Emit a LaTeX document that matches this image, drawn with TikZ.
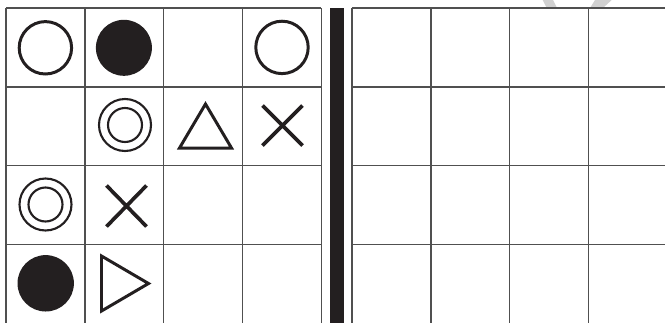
\documentclass[tikz,border=0pt]{standalone}
\usepackage{tikz}
\definecolor{ink}{HTML}{231F20}
\definecolor{rule}{HTML}{505050}

\begin{document}
\begin{tikzpicture}[x=0.02cm, y=-0.02cm,
  gridline/.style={rule, line width=0.75pt},
  symbol/.style={ink, line width=1.7pt},
  thinsymbol/.style={ink, line width=1.2pt},
  cross/.style={ink, line width=2.1pt}]
  \useasboundingbox (0,0) rectangle (665,322);
  \clip (0,0) rectangle (665,322);
  % watermark fragment
  \begin{scope}
    \clip (0,0) rectangle (665,8);
    \fill[black!18] (542.7,0) -- (553,0) -- (557,8) -- (546.7,8) -- cycle;
    \fill[black!18] (595,0) -- (611.7,0) -- (603,8) -- (590,8) -- cycle;
  \end{scope}
  % left grid
  \foreach \i in {0,...,4}
    \draw[gridline] ({6+78.85*\i},8) -- ({6+78.85*\i},330);
  \foreach \j in {0,...,3}
    \draw[gridline] (6,{8+78.85*\j}) -- (321.4,{8+78.85*\j});
  % right grid
  \foreach \i in {0,...,4}
    \draw[gridline] ({352+78.85*\i},8) -- ({352+78.85*\i},330);
  \foreach \j in {0,...,3}
    \draw[gridline] (352,{8+78.85*\j}) -- (670,{8+78.85*\j});
  % divider
  \fill[ink] (330,8) rectangle (343.5,330);
  % row 1
  \draw[symbol] (45.4,47.8) circle (26.2);
  \fill[ink] (123.9,47.8) circle (28);
  \draw[symbol] (282.0,47.4) circle (26.2);
  % row 2
  \draw[thinsymbol] (125,125) circle (26) (125,125) circle (17);
  \draw[symbol, line join=miter] (205.5,104) -- (231.5,148) -- (179.5,148) -- cycle;
  \draw[cross] (262.5,105.5) -- (302.5,145.5) (302.5,105.5) -- (262.5,145.5);
  % row 3
  \draw[thinsymbol] (45.5,204.5) circle (26) (45.5,204.5) circle (17);
  \draw[cross] (106.5,185.5) -- (146.5,226.5) (146.5,185.5) -- (106.5,226.5);
  % row 4
  \fill[ink] (45.7,283.3) circle (28.2);
  \draw[symbol, line join=miter] (101.5,256) -- (148.5,283.5) -- (101.5,311) -- cycle;
\end{tikzpicture}
\end{document}
